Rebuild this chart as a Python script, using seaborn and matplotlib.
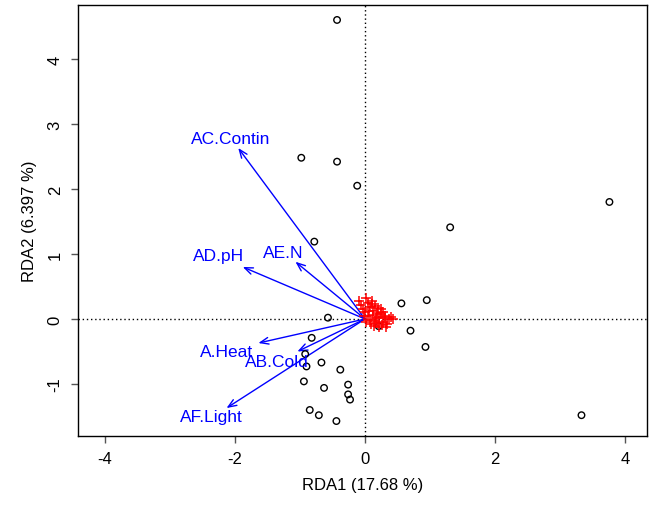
import numpy as np
import pandas as pd
import matplotlib
matplotlib.use("Agg")
import matplotlib.pyplot as plt
import seaborn as sns

## Data

# site scores (open circles)
site_x = [-0.43, -0.98, -0.43, -0.12, 3.76, 1.31, -0.78, 0.56, 0.95, -0.57,
          0.21, 0.70, 0.93, -0.82, -0.92, -0.90, -0.67, -0.38, -0.94, -0.63,
          -0.26, -0.26, -0.23, -0.85, -0.71, -0.44, 3.33]
site_y = [4.60, 2.48, 2.42, 2.05, 1.80, 1.41, 1.19, 0.24, 0.29, 0.02,
          -0.11, -0.18, -0.43, -0.29, -0.54, -0.73, -0.67, -0.78, -0.96, -1.06,
          -1.01, -1.16, -1.24, -1.40, -1.48, -1.57, -1.48]

# species scores (red crosses)
spec_x = [-0.10, -0.06, -0.03, 0.00, 0.02, 0.05, 0.08, 0.10, 0.12, 0.04,
          0.07, 0.13, 0.16, 0.19, 0.22, 0.25, 0.28, 0.31, 0.34, 0.37,
          0.40, 0.43, 0.18, 0.21, 0.26, 0.30, 0.15, 0.09, 0.11, 0.24,
          0.33, 0.06, 0.14, 0.20, 0.27, 0.01, -0.02, 0.17]
spec_y = [0.28, 0.22, 0.15, 0.10, 0.33, 0.24, 0.19, 0.28, 0.13, 0.05,
          -0.02, 0.06, 0.20, 0.09, 0.03, 0.08, -0.04, 0.02, -0.08, 0.00,
          0.03, 0.00, -0.06, -0.12, -0.10, 0.05, -0.03, -0.08, 0.23, 0.15,
          -0.13, 0.12, -0.11, 0.17, 0.10, -0.05, 0.04, 0.01]

# environmental arrows
env_names = ["A.Heat", "AB.Cold", "AC.Contin", "AD.pH", "AE.N", "AF.Light"]
env_x = [-1.64, -1.04, -1.95, -1.88, -1.07, -2.13]
env_y = [-0.37, -0.50, 2.63, 0.80, 0.88, -1.37]
lab_x = [-2.13, -1.36, -2.06, -2.26, -1.26, -2.37]
lab_y = [-0.50, -0.65, 2.77, 0.97, 1.03, -1.50]

sites = pd.DataFrame({"RDA1": site_x, "RDA2": site_y})
spec = pd.DataFrame({"RDA1": spec_x, "RDA2": spec_y})

## Plot
sns.set_style("ticks")
plt.rcParams["font.family"] = ["Liberation Sans", "DejaVu Sans"]
plt.rcParams["font.size"] = 12
plt.rcParams["axes.unicode_minus"] = False
plt.rcParams["text.color"] = "black"
plt.rcParams["axes.labelcolor"] = "black"
plt.rcParams["xtick.labelcolor"] = "black"
plt.rcParams["ytick.labelcolor"] = "black"

fig = plt.figure(figsize=(6.51, 5.06), dpi=100)
ax = fig.add_axes([78 / 651, 69 / 506, 569 / 651, 431 / 506])

ax.axhline(0, color="black", lw=1, ls=(0, (1, 2)), zorder=1)
ax.axvline(0, color="black", lw=1, ls=(0, (1, 2)), zorder=1)

sns.scatterplot(data=sites, x="RDA1", y="RDA2", ax=ax, marker="o", s=22,
                facecolor="none", edgecolor="black", linewidth=1, zorder=3)
sns.scatterplot(data=spec, x="RDA1", y="RDA2", ax=ax, marker="+", s=60,
                color="red", linewidth=1.1, zorder=4)

for name, x, y, lx, ly in zip(env_names, env_x, env_y, lab_x, lab_y):
    ax.annotate("", xy=(x, y), xytext=(0, 0),
                arrowprops=dict(arrowstyle="->,head_length=0.5,head_width=0.2",
                                color="blue", lw=1, shrinkA=0, shrinkB=0),
                zorder=2)
    ax.text(lx, ly, name, color="blue", fontsize=12.5, ha="center", va="center",
            zorder=5)

ax.set_xlim(-4.415, 4.338)
ax.set_ylim(-1.80, 4.83)
ax.set_xticks([-4, -2, 0, 2, 4])
ax.set_yticks([-1, 0, 1, 2, 3, 4])
ax.tick_params(direction="out", length=5, width=1, color="#555555",
               labelsize=12, pad=6, labelcolor="black")
for lab in ax.get_yticklabels():
    lab.set_rotation(90)
    lab.set_va("center")
for sp in ax.spines.values():
    sp.set_linewidth(1)
    sp.set_color("black")

ax.set_xlabel("RDA1 (17.68 %)", fontsize=12, labelpad=8, color="black")
ax.set_ylabel("RDA2 (6.397 %)", fontsize=12, labelpad=8, color="black")

fig.savefig("out.png", dpi=100)
